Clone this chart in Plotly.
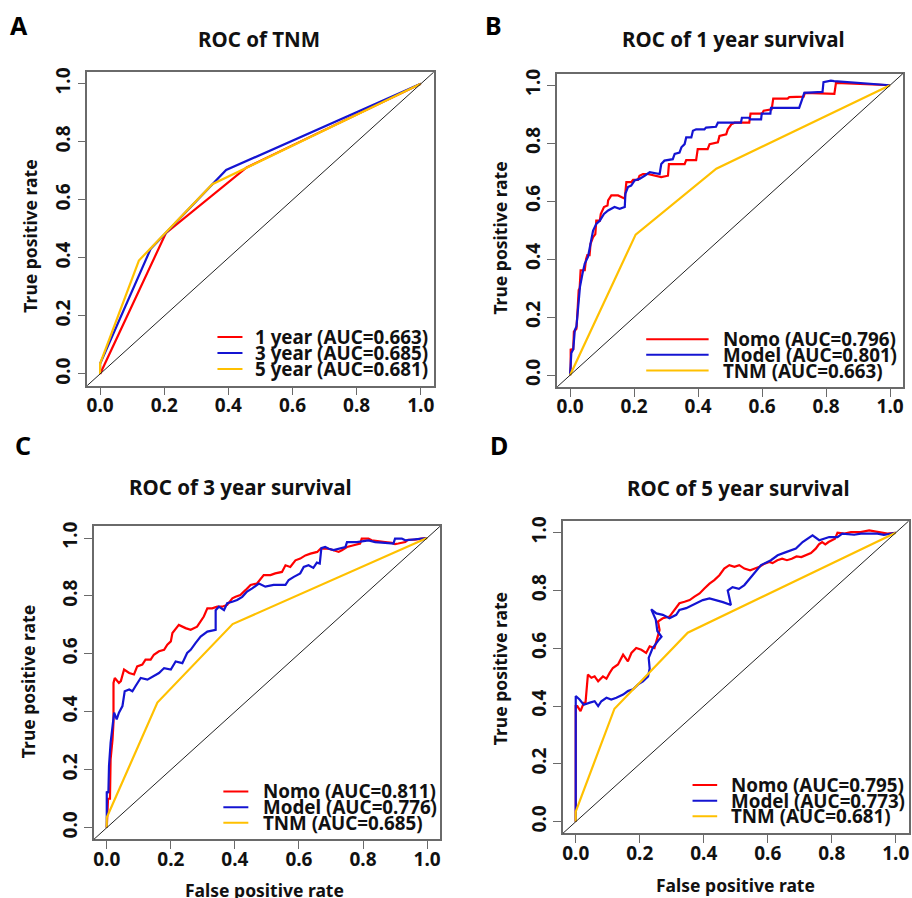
import plotly.graph_objects as go

W, H = 912, 898

# ---------------- data ----------------
# TNM staging ROC curves (false positive rate, true positive rate)
TNM_1Y_FPR = [0, 0.205, 0.457, 1.0]
TNM_1Y_TPR = [0, 0.485, 0.712, 1.0]
TNM_3Y_FPR = [0, 0.0, 0.158, 0.393, 1.0]
TNM_3Y_TPR = [0, 0.035, 0.432, 0.703, 1.0]
TNM_5Y_FPR = [0, 0.0, 0.121, 0.35, 1.0]
TNM_5Y_TPR = [0, 0.035, 0.391, 0.654, 1.0]

# 1 year survival
NOMO_1Y_FPR = [0, 0.002, 0.002, 0.01, 0.012, 0.02, 0.023, 0.027, 0.03, 0.033, 0.046, 0.05, 0.054,
               0.061, 0.064, 0.072, 0.079, 0.082, 0.093, 0.096, 0.106, 0.117, 0.119, 0.129, 0.15,
               0.171, 0.176, 0.191, 0.197, 0.212, 0.217, 0.228, 0.243, 0.285, 0.306, 0.309, 0.358,
               0.363, 0.394, 0.399, 0.43, 0.436, 0.462, 0.467, 0.488, 0.493, 0.504, 0.514, 0.56,
               0.564, 0.6, 0.605, 0.63, 0.635, 0.68, 0.685, 0.73, 0.734, 0.826, 0.831, 1.0]
NOMO_1Y_TPR = [0, 0.03, 0.088, 0.09, 0.15, 0.16, 0.214, 0.294, 0.3, 0.362, 0.362, 0.4, 0.414,
               0.414, 0.453, 0.476, 0.487, 0.533, 0.533, 0.556, 0.58, 0.585, 0.603, 0.62, 0.62,
               0.609, 0.666, 0.666, 0.674, 0.674, 0.688, 0.694, 0.694, 0.683, 0.688, 0.728, 0.728,
               0.742, 0.742, 0.78, 0.78, 0.797, 0.803, 0.825, 0.831, 0.848, 0.865, 0.871, 0.871,
               0.902, 0.902, 0.912, 0.917, 0.954, 0.954, 0.959, 0.961, 0.974, 0.97, 1.008, 1.0]
MODEL_1Y_FPR = [0, 0.004, 0.01, 0.015, 0.02, 0.026, 0.031, 0.039, 0.046, 0.056, 0.065, 0.072,
                0.082, 0.093, 0.106, 0.119, 0.139, 0.155, 0.171, 0.173, 0.181, 0.191, 0.202,
                0.217, 0.233, 0.249, 0.28, 0.285, 0.295, 0.321, 0.327, 0.342, 0.348, 0.358,
                0.363, 0.379, 0.384, 0.394, 0.42, 0.425, 0.456, 0.462, 0.534, 0.537, 0.56,
                0.563, 0.597, 0.599, 0.626, 0.628, 0.716, 0.721, 0.726, 0.732, 0.789, 0.792,
                0.815, 0.825, 1.0]
MODEL_1Y_TPR = [0, 0.077, 0.09, 0.156, 0.168, 0.237, 0.305, 0.351, 0.385, 0.408, 0.453, 0.499,
                0.522, 0.533, 0.556, 0.568, 0.58, 0.574, 0.58, 0.626, 0.649, 0.654, 0.672,
                0.677, 0.688, 0.7, 0.694, 0.728, 0.74, 0.745, 0.763, 0.768, 0.786, 0.797,
                0.82, 0.82, 0.843, 0.848, 0.848, 0.854, 0.857, 0.871, 0.871, 0.888, 0.888,
                0.882, 0.882, 0.902, 0.902, 0.922, 0.922, 0.936, 0.954, 0.974, 0.977, 1.011,
                1.016, 1.014, 1.0]

# 3 year survival
NOMO_3Y_FPR = [0, 0.004, 0.01, 0.012, 0.018, 0.021, 0.021, 0.025, 0.038, 0.044, 0.054, 0.07,
               0.085, 0.095, 0.111, 0.121, 0.137, 0.147, 0.163, 0.179, 0.189, 0.2, 0.205, 0.225,
               0.246, 0.262, 0.282, 0.293, 0.303, 0.314, 0.329, 0.345, 0.36, 0.376, 0.392,
               0.402, 0.417, 0.433, 0.449, 0.469, 0.49, 0.511, 0.526, 0.547, 0.558, 0.573,
               0.589, 0.604, 0.62, 0.636, 0.657, 0.667, 0.693, 0.708, 0.724, 0.734, 0.75,
               0.771, 0.791, 0.796, 0.817, 0.827, 0.848, 0.869, 0.89, 0.9, 0.91, 0.932, 0.941,
               0.962, 0.983, 1.0]
NOMO_3Y_TPR = [0, 0.1, 0.1, 0.237, 0.305, 0.363, 0.5, 0.517, 0.5, 0.506, 0.546, 0.534, 0.529,
               0.557, 0.563, 0.58, 0.58, 0.597, 0.609, 0.614, 0.632, 0.643, 0.672, 0.7, 0.689,
               0.683, 0.694, 0.712, 0.729, 0.757, 0.757, 0.763, 0.763, 0.769, 0.792, 0.797,
               0.803, 0.82, 0.838, 0.843, 0.872, 0.872, 0.878, 0.883, 0.906, 0.9, 0.923, 0.929,
               0.94, 0.946, 0.952, 0.963, 0.963, 0.958, 0.952, 0.958, 0.969, 0.975, 0.981,
               0.998, 0.998, 0.992, 0.99, 0.986, 0.983, 0.979, 0.981, 0.986, 0.994, 0.994,
               0.998, 1.0]
MODEL_3Y_FPR = [0, 0.0, 0.005, 0.007, 0.012, 0.018, 0.023, 0.031, 0.038, 0.049, 0.056, 0.07,
                0.08, 0.09, 0.106, 0.127, 0.147, 0.163, 0.179, 0.2, 0.215, 0.236, 0.251, 0.262,
                0.277, 0.293, 0.314, 0.34, 0.34, 0.35, 0.366, 0.376, 0.392, 0.407, 0.423,
                0.438, 0.454, 0.475, 0.495, 0.521, 0.558, 0.568, 0.584, 0.604, 0.615, 0.63,
                0.645, 0.656, 0.665, 0.67, 0.682, 0.693, 0.708, 0.745, 0.75, 0.781, 0.817,
                0.838, 0.869, 0.895, 0.9, 0.921, 0.932, 0.952, 0.973, 1.0]
MODEL_3Y_TPR = [0, 0.125, 0.12, 0.214, 0.294, 0.363, 0.397, 0.374, 0.397, 0.42, 0.471, 0.477,
                0.471, 0.489, 0.517, 0.511, 0.523, 0.534, 0.551, 0.546, 0.574, 0.568, 0.603,
                0.614, 0.637, 0.66, 0.677, 0.683, 0.751, 0.763, 0.751, 0.775, 0.78, 0.786,
                0.797, 0.815, 0.826, 0.843, 0.832, 0.838, 0.838, 0.855, 0.866, 0.878, 0.9,
                0.906, 0.897, 0.915, 0.912, 0.965, 0.969, 0.963, 0.958, 0.969, 0.986, 0.986,
                0.992, 0.986, 0.983, 0.981, 0.998, 0.998, 0.992, 0.994, 0.998, 1.0]

# 5 year survival
NOMO_5Y_FPR = [0, 0.0, 0.005, 0.015, 0.026, 0.03, 0.038, 0.049, 0.059, 0.07, 0.085, 0.096,
               0.106, 0.116, 0.132, 0.148, 0.163, 0.174, 0.189, 0.205, 0.22, 0.231, 0.246,
               0.257, 0.262, 0.257, 0.272, 0.293, 0.304, 0.324, 0.34, 0.356, 0.371, 0.387,
               0.402, 0.418, 0.433, 0.449, 0.464, 0.48, 0.496, 0.511, 0.527, 0.545, 0.56,
               0.574, 0.59, 0.605, 0.615, 0.63, 0.645, 0.66, 0.675, 0.69, 0.705, 0.72, 0.735,
               0.75, 0.76, 0.77, 0.78, 0.79, 0.81, 0.818, 0.84, 0.86, 0.89, 0.917, 0.943,
               0.974, 1.0]
NOMO_5Y_TPR = [0, 0.4, 0.4, 0.383, 0.414, 0.405, 0.509, 0.498, 0.503, 0.486, 0.503, 0.495,
               0.515, 0.532, 0.544, 0.578, 0.555, 0.584, 0.601, 0.595, 0.584, 0.607, 0.601,
               0.641, 0.664, 0.693, 0.704, 0.71, 0.727, 0.756, 0.761, 0.767, 0.779, 0.79,
               0.807, 0.824, 0.836, 0.853, 0.876, 0.888, 0.882, 0.888, 0.876, 0.87, 0.876,
               0.882, 0.893, 0.899, 0.895, 0.905, 0.91, 0.905, 0.91, 0.918, 0.916, 0.922,
               0.93, 0.945, 0.96, 0.968, 0.96, 0.968, 0.979, 1.0, 0.997, 1.002, 1.002, 1.008,
               1.002, 0.997, 1.0]
MODEL_5Y_FPR = [0, 0.0, 0.012, 0.025, 0.044, 0.059, 0.07, 0.08, 0.096, 0.111, 0.127, 0.148,
                0.163, 0.179, 0.195, 0.21, 0.226, 0.231, 0.228, 0.24, 0.26, 0.268, 0.255,
                0.25, 0.236, 0.252, 0.272, 0.293, 0.314, 0.324, 0.345, 0.366, 0.382, 0.397,
                0.418, 0.439, 0.46, 0.485, 0.475, 0.49, 0.51, 0.527, 0.553, 0.579, 0.61,
                0.631, 0.657, 0.688, 0.709, 0.725, 0.74, 0.761, 0.792, 0.818, 0.833, 0.87,
                0.891, 0.943, 0.963, 1.0]
MODEL_5Y_TPR = [0, 0.435, 0.423, 0.405, 0.412, 0.417, 0.4, 0.417, 0.429, 0.423, 0.429, 0.44,
                0.452, 0.458, 0.475, 0.486, 0.503, 0.53, 0.567, 0.6, 0.63, 0.64, 0.66, 0.7,
                0.735, 0.721, 0.716, 0.704, 0.716, 0.733, 0.739, 0.75, 0.761, 0.767, 0.773,
                0.767, 0.76, 0.75, 0.8, 0.812, 0.806, 0.819, 0.853, 0.888, 0.905, 0.922,
                0.933, 0.945, 0.968, 0.979, 0.991, 0.974, 0.985, 0.985, 0.997, 0.993, 0.997,
                0.997, 0.993, 1.0]

TICK_VALUES = [0, 0.2, 0.4, 0.6, 0.8, 1.0]
TICK_LABELS = ["0.0", "0.2", "0.4", "0.6", "0.8", "1.0"]

RED, BLUE, GOLD = "#FF0000", "#1414D2", "#FFC000"
BOX = "#6A6A6A"
FONT = "Noto Sans"

# panel layout: pixel position of the 0 and 1 ticks on each axis
panels = [
    dict(letter="A", title="ROC of TNM", x0=99.3, x1=420.7, y0=371.0, y1=79.3,
         title_xy=(259, 34), letter_xy=(18, 20), ytitle_xy=(29, 232), xtitle_xy=None,
         legend_x=(0.366, 0.444, 0.478), legend_y=(0.127, 0.072, 0.017),
         curves=[("1 year (AUC=0.663)", TNM_1Y_FPR, TNM_1Y_TPR, RED),
                 ("3 year (AUC=0.685)", TNM_3Y_FPR, TNM_3Y_TPR, BLUE),
                 ("5 year (AUC=0.681)", TNM_5Y_FPR, TNM_5Y_TPR, GOLD)]),
    dict(letter="B", title="ROC of 1 year survival", x0=570.3, x1=891.0, y0=372.3, y1=80.7,
         title_xy=(734, 34), letter_xy=(494, 20), ytitle_xy=(500, 234), xtitle_xy=None,
         legend_x=(0.238, 0.433, 0.472), legend_y=(0.124, 0.071, 0.016),
         curves=[("Nomo (AUC=0.796)", NOMO_1Y_FPR, NOMO_1Y_TPR, RED),
                 ("Model (AUC=0.801)", MODEL_1Y_FPR, MODEL_1Y_TPR, BLUE),
                 ("TNM (AUC=0.663)", TNM_1Y_FPR, TNM_1Y_TPR, GOLD)]),
    dict(letter="C", title="ROC of 3 year survival", x0=106.0, x1=427.0, y0=827.3, y1=536.0,
         title_xy=(240, 485), letter_xy=(22, 442), ytitle_xy=(27, 680), xtitle_xy=(264, 890),
         legend_x=(0.364, 0.442, 0.48), legend_y=(0.125, 0.071, 0.017),
         curves=[("Nomo (AUC=0.811)", NOMO_3Y_FPR, NOMO_3Y_TPR, RED),
                 ("Model (AUC=0.776)", MODEL_3Y_FPR, MODEL_3Y_TPR, BLUE),
                 ("TNM (AUC=0.685)", TNM_3Y_FPR, TNM_3Y_TPR, GOLD)]),
    dict(letter="D", title="ROC of 5 year survival", x0=576.0, x1=896.7, y0=821.3, y1=530.7,
         title_xy=(739, 486), letter_xy=(499, 442), ytitle_xy=(500, 667), xtitle_xy=(736, 885),
         legend_x=(0.365, 0.442, 0.48), legend_y=(0.127, 0.073, 0.019),
         curves=[("Nomo (AUC=0.795)", NOMO_5Y_FPR, NOMO_5Y_TPR, RED),
                 ("Model (AUC=0.773)", MODEL_5Y_FPR, MODEL_5Y_TPR, BLUE),
                 ("TNM (AUC=0.681)", TNM_5Y_FPR, TNM_5Y_TPR, GOLD)]),
]

PAD = 0.04
fig = go.Figure()
annotations = []
shapes = []


def px(xp, yp):
    return xp / W, 1 - yp / H


def bold(size, color="#111"):
    return dict(family=FONT, size=size, color=color, weight="bold")


for i, p in enumerate(panels, start=1):
    xa = "x" if i == 1 else f"x{i}"
    ya = "y" if i == 1 else f"y{i}"
    xkey = "xaxis" if i == 1 else f"xaxis{i}"
    ykey = "yaxis" if i == 1 else f"yaxis{i}"

    sx = p["x1"] - p["x0"]
    sy = p["y0"] - p["y1"]
    left, right = p["x0"] - PAD * sx, p["x1"] + PAD * sx
    top, bottom = p["y1"] - PAD * sy, p["y0"] + PAD * sy

    axis_common = dict(range=[-PAD, 1 + PAD], tickvals=TICK_VALUES, ticktext=TICK_LABELS,
                       ticks="outside", ticklen=8, tickwidth=1, tickcolor=BOX,
                       showline=True, linecolor=BOX, linewidth=1.5, mirror=True,
                       showgrid=False, zeroline=False, fixedrange=True,
                       tickfont=bold(19))
    fig.update_layout({
        xkey: dict(domain=[left / W, right / W], anchor=ya, ticklabelstandoff=-6, **axis_common),
        ykey: dict(domain=[1 - bottom / H, 1 - top / H], anchor=xa, tickangle=-90,
                   ticklabelstandoff=0, **axis_common),
    })

    for name, fx, ty, col in p["curves"]:
        fig.add_trace(go.Scatter(x=fx, y=ty, mode="lines", name=name, xaxis=xa, yaxis=ya,
                                 line=dict(color=col, width=2.2), showlegend=False,
                                 hoverinfo="skip"))

    # chance diagonal across the whole plot box
    shapes.append(dict(type="line", xref=f"{xa} domain", yref=f"{ya} domain",
                       x0=0, y0=0, x1=1, y1=1, line=dict(color="#222", width=1)))

    # legend (bottom right, no frame)
    lx0, lx1, tx = p["legend_x"]
    for (name, _, _, col), ly in zip(p["curves"], p["legend_y"]):
        shapes.append(dict(type="line", xref=xa, yref=ya, x0=lx0, x1=lx1, y0=ly, y1=ly,
                           line=dict(color=col, width=2)))
        annotations.append(dict(text=name, xref=xa, yref=ya, x=tx, y=ly, xanchor="left",
                                yanchor="middle", showarrow=False, font=bold(18.8)))

    tx_, ty_ = px(*p["title_xy"])
    annotations.append(dict(text=p["title"], xref="paper", yref="paper", x=tx_, y=ty_,
                            xanchor="center", yanchor="middle", showarrow=False,
                            font=bold(20.5)))
    lx_, ly_ = px(*p["letter_xy"])
    annotations.append(dict(text=p["letter"], xref="paper", yref="paper", x=lx_, y=ly_,
                            xanchor="center", yanchor="middle", showarrow=False,
                            font=bold(25, "#000")))
    yx_, yy_ = px(*p["ytitle_xy"])
    annotations.append(dict(text="True positive rate", xref="paper", yref="paper", x=yx_,
                            y=yy_, xanchor="center", yanchor="middle", textangle=-90,
                            showarrow=False, font=bold(17.5)))
    if p["xtitle_xy"]:
        xx_, xy_ = px(*p["xtitle_xy"])
        annotations.append(dict(text="False positive rate", xref="paper", yref="paper",
                                x=xx_, y=xy_, xanchor="center", yanchor="middle",
                                showarrow=False, font=bold(17.5)))

fig.update_layout(width=W, height=H, margin=dict(l=0, r=0, t=0, b=0),
                  paper_bgcolor="white", plot_bgcolor="white",
                  font=dict(family=FONT, color="#111"),
                  annotations=annotations, shapes=shapes, showlegend=False)

fig.write_html("out.html")
